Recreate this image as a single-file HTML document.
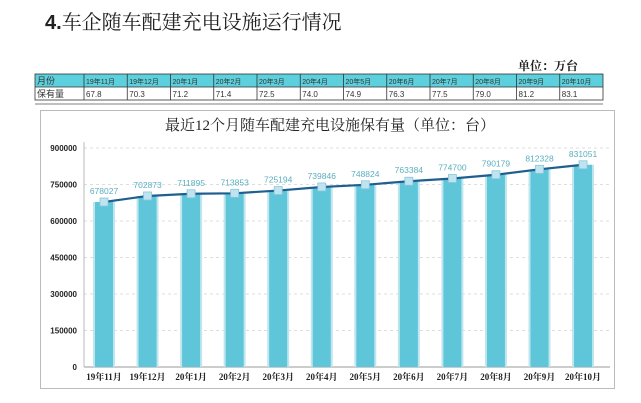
<!DOCTYPE html>
<html><head><meta charset="utf-8"><style>
html,body{margin:0;padding:0;background:#fff;width:641px;height:403px;overflow:hidden}
svg{display:block}
</style></head><body>
<svg width="641" height="403" xmlns="http://www.w3.org/2000/svg" font-family="Liberation Serif, Noto Serif CJK SC, serif">
<text x="45" y="29" font-size="20" font-weight="bold" fill="#222" font-family="Liberation Sans, Noto Sans CJK SC, sans-serif">4.<tspan font-family="Noto Serif CJK SC, serif" font-weight="normal">车企随车配建充电设施运行情况</tspan></text>
<text x="578" y="70" font-size="12" fill="#222" text-anchor="end" font-weight="bold">单位：万台</text>
<g font-family="Liberation Sans, Noto Sans CJK SC, sans-serif" font-size="7.5" fill="#333">
<rect x="35" y="74" width="568" height="13" fill="#5cd0dc"/>
<rect x="35" y="74" width="568" height="26" fill="none" stroke="#333" stroke-width="0.8"/>
<line x1="35" y1="87" x2="603" y2="87" stroke="#333" stroke-width="0.8"/>
<text x="37" y="84" font-size="9">月份</text>
<text x="37" y="97" font-size="9">保有量</text>
</g>
<g id="tbl" font-family="Liberation Sans, Noto Sans CJK SC, sans-serif" font-size="7" fill="#333"></g>
<line x1="35" y1="104" x2="603" y2="104" stroke="#aaa" stroke-width="1.5"/>
<rect x="40.5" y="110.5" width="574" height="278" fill="#fff" stroke="#bbb" stroke-width="1"/>
<text x="330" y="130" font-size="15" text-anchor="middle" fill="#222">最近12个月随车配建充电设施保有量（单位：台）</text>
<g id="chart"></g>
</svg>
<script>
var ns="http://www.w3.org/2000/svg";
function el(p,t,a,txt){var e=document.createElementNS(ns,t);for(var k in a)e.setAttribute(k,a[k]);if(txt!=null)e.textContent=txt;p.appendChild(e);return e;}
var tbl=document.getElementById('tbl');
var mon=["19年11月","19年12月","20年1月","20年2月","20年3月","20年4月","20年5月","20年6月","20年7月","20年8月","20年9月","20年10月"];
var tv=["67.8","70.3","71.2","71.4","72.5","74.0","74.9","76.3","77.5","79.0","81.2","83.1"];
var x0=84,cw=(603-84)/12;
for(var i=0;i<12;i++){var x=x0+i*cw;
el(tbl,'line',{x1:x,y1:74,x2:x,y2:100,stroke:'#333','stroke-width':0.8});
el(tbl,'text',{x:x+2,y:84},mon[i]);el(tbl,'text',{x:x+2,y:97,'font-size':8},tv[i]);}
var c=document.getElementById('chart');
var base=367,step=36.5,xa=84,xe=610;
for(var k=0;k<=6;k++){var y=base-k*step;
if(k>0)el(c,'line',{x1:xa,y1:y,x2:xe,y2:y,stroke:'#ddd','stroke-dasharray':'3,3'});
el(c,'text',{x:77,y:y+3,'font-size':8,'font-weight':'bold','text-anchor':'end',fill:'#222','font-family':'Liberation Sans, sans-serif'},(k*150000)+'');}
el(c,'line',{x1:xa,y1:base,x2:xe,y2:base,stroke:'#999'});
el(c,'line',{x1:xa,y1:142,x2:xa,y2:base,stroke:'#bbb'});
var v=[678027,702873,711895,713853,725194,739846,748824,763384,774700,790179,812328,831051];
var pts=[];
for(var i=0;i<12;i++){var cx=104+i*43.55,y=base-v[i]/150000*step;pts.push(cx+','+y);
el(c,'rect',{x:cx-11,y:y,width:22,height:base-y,fill:'#bfe6ee'});
el(c,'rect',{x:cx-9,y:y,width:18,height:base-y,fill:'#5fc6da'});
el(c,'text',{x:cx,y:380,'font-size':9,'font-weight':'bold','text-anchor':'middle',fill:'#222'},mon[i]);
el(c,'text',{x:cx,y:y-8,'font-size':8.5,'text-anchor':'middle',fill:'#5aaebe','font-family':'Liberation Sans, sans-serif'},v[i]+'');}
el(c,'polyline',{points:pts.join(' '),fill:'none',stroke:'#1f5f8f','stroke-width':2.2});
for(var i=0;i<12;i++){var p=pts[i].split(',');el(c,'rect',{x:p[0]-4,y:p[1]-4,width:8,height:8,fill:'#bfe3ef',stroke:'#8cc6dc','stroke-width':0.8});}
</script>
</body></html>
